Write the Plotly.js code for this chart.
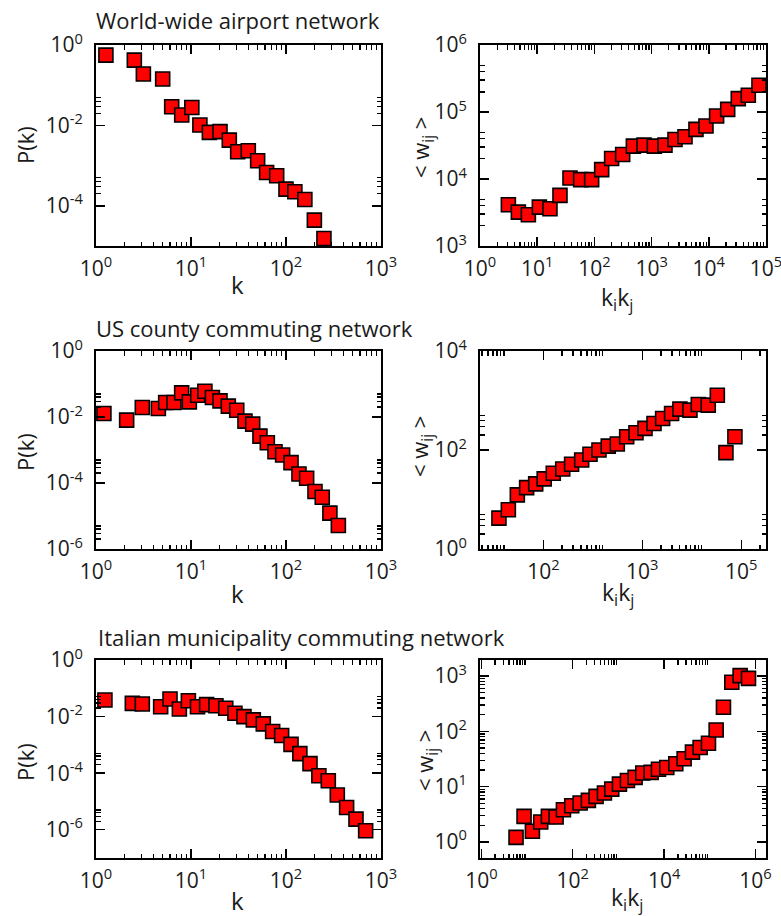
<!DOCTYPE html>
<html>
<head>
<meta charset="utf-8">
<script src="https://cdn.plot.ly/plotly-3.0.1.min.js"></script>
<style>html,body{margin:0;padding:0;background:#fff}</style>
</head>
<body>
<div id="chart" style="width:781px;height:916px"></div>
<script>
// ---- Data ----
const panelTitles = ["World-wide airport network", "US county commuting network", "Italian municipality commuting network"];

// World-wide airport network
const airportK = [1.27, 2.53, 3.15, 5.03, 6.26, 7.98, 10.2, 12.4, 15.6, 20.2, 25.3, 31.0, 40.1, 50.3, 62.5, 79.8, 100, 124, 158, 199, 251];
const airportPk = [0.56, 0.42, 0.19, 0.143, 0.0292, 0.0181, 0.028, 0.0102, 0.0067, 0.0070, 0.00431, 0.00221, 0.00234, 0.00132, 6.76e-4, 5.58e-4, 2.6e-4, 2.23e-4, 1.44e-4, 4.4e-5, 1.54e-5];
const airportKiKj = [3.13, 4.68, 7.0, 10.9, 16.7, 25.0, 37.4, 57.5, 89.5, 134, 200, 312, 480, 737, 1117, 1714, 2565, 3840, 5970, 8930, 13700, 21400, 32800, 49100, 75500];
const airportWij = [4120, 3200, 2920, 3800, 3590, 5690, 10350, 9770, 9770, 13800, 20200, 23200, 30900, 32000, 30900, 32000, 38900, 42700, 55000, 61700, 87100, 109600, 158500, 177800, 251200];

// US county commuting network
const usK = [1.21, 2.10, 3.07, 4.53, 5.41, 6.62, 7.97, 9.60, 11.75, 14.0, 16.8, 20.2, 24.7, 30.3, 37.0, 44.6, 53.2, 63.6, 76.6, 92.2, 113, 137, 165, 202, 241, 290, 356];
const usPk = [0.0128, 0.00804, 0.0194, 0.0181, 0.0275, 0.0275, 0.0538, 0.0288, 0.0458, 0.0604, 0.0389, 0.0308, 0.0213, 0.0161, 0.0075, 0.00608, 0.00264, 0.00166, 8.89e-4, 7.05e-4, 4.13e-4, 1.88e-4, 1.39e-4, 5.5e-5, 3.7e-5, 1.22e-5, 5.16e-6];
const usKiKj = [35.6, 44.3, 54.6, 67.8, 83.7, 102, 126, 157, 193, 244, 296, 365, 453, 559, 695, 863, 1065, 1313, 1605, 1977, 2400, 3030, 3680, 4640, 5730, 7000, 8630];
const usWij = [4.21, 6.19, 12.4, 17.4, 20.7, 26.1, 33.9, 41.4, 51.4, 62.9, 81.8, 100, 120, 132, 185, 223, 273, 344, 434, 547, 669, 638, 830, 805, 1280, 88.4, 185];

// Italian municipality commuting network
const itK = [1.24, 2.41, 3.07, 4.79, 6.01, 7.54, 9.38, 11.7, 14.6, 18.3, 23.2, 29.0, 36.1, 45.3, 57.7, 72.4, 90.0, 113, 140, 179, 222, 279, 347, 435, 546, 690];
const itPk = [0.0385, 0.0294, 0.0278, 0.0224, 0.0417, 0.0186, 0.0364, 0.0224, 0.0264, 0.0243, 0.0196, 0.0131, 0.0100, 0.00764, 0.00553, 0.00298, 0.00215, 0.00104, 4.9e-4, 2.18e-4, 8.06e-5, 5.38e-5, 1.69e-5, 6.08e-6, 2.37e-6, 9.23e-7];
const itKiKj = [5.74, 8.6, 13.1, 19.9, 29.3, 43.2, 62.5, 95.0, 145, 220, 324, 494, 714, 1052, 1574, 2317, 3412, 5190, 7520, 11430, 18000, 27400, 41700, 61400, 93500, 137700, 199000, 303000, 461000, 703000];
const itWij = [1.21, 2.90, 1.56, 2.30, 2.90, 2.83, 3.83, 4.52, 5.05, 5.65, 6.67, 7.66, 9.04, 11.1, 12.9, 14.7, 17.6, 18.1, 20.7, 22.2, 25.9, 31.9, 42.1, 51.0, 61.1, 106, 272, 770, 1016, 909];

// Tick values and labels
const kTickVals = [1, 10, 100, 1000];
const kTickText = ["10<sup>0</sup>", "10<sup>1</sup>", "10<sup>2</sup>", "10<sup>3</sup>"];
const pTickVals = [1, 1e-2, 1e-4, 1e-6];
const pTickText = ["10<sup>0</sup>", "10<sup>-2</sup>", "10<sup>-4</sup>", "10<sup>-6</sup>"];
const airKKTickVals = [1, 10, 100, 1000, 1e4, 1e5];
const airKKTickText = ["10<sup>0</sup>", "10<sup>1</sup>", "10<sup>2</sup>", "10<sup>3</sup>", "10<sup>4</sup>", "10<sup>5</sup>"];
const airWTickVals = [1e3, 1e4, 1e5, 1e6];
const airWTickText = ["10<sup>3</sup>", "10<sup>4</sup>", "10<sup>5</sup>", "10<sup>6</sup>"];
const usKKTickVals = [100, 1000, 1e4];
const usKKTickText = ["10<sup>2</sup>", "10<sup>3</sup>", "10<sup>5</sup>"];
const usWTickVals = [1, 100, 1e4];
const usWTickText = ["10<sup>0</sup>", "10<sup>2</sup>", "10<sup>4</sup>"];
const itKKTickVals = [1, 100, 1e4, 1e6];
const itKKTickText = ["10<sup>0</sup>", "10<sup>2</sup>", "10<sup>4</sup>", "10<sup>6</sup>"];
const itWTickVals = [1, 10, 100, 1000];
const itWTickText = ["10<sup>0</sup>", "10<sup>1</sup>", "10<sup>2</sup>", "10<sup>3</sup>"];

// ---- Helpers ----
const W = 781, H = 916;
const FONT = "Open Sans, Noto Sans, sans-serif";
function minors(decades, ns, scale) {
  const out = [];
  decades.forEach(d => ns.forEach(n => out.push(Math.pow(10, d + (scale || 1) * Math.log10(n)))));
  return out;
}
const N29 = [2,3,4,5,6,7,8,9];
const N25 = [2,3,4,5];
function xdom(a, b) { return [a / W, b / W]; }
function ydom(top, bottom) { return [1 - bottom / H, 1 - top / H]; }
function axis(dom, range, tv, tt, mv, isY) {
  return {
    type: 'log', domain: dom, range: range,
    showline: true, linecolor: '#000', linewidth: 2, mirror: 'ticks',
    ticks: 'inside', ticklen: 9, tickwidth: 1.5, tickcolor: '#000',
    tickmode: 'array', tickvals: tv, ticktext: tt,
    ticklabelstandoff: isY ? 7 : 3, ticklabeloverflow: 'allow',
    tickfont: {family: FONT, size: 21, color: '#1a1a1a'},
    minor: {tickmode: 'array', tickvals: mv, ticks: 'inside', ticklen: 4.5, tickwidth: 1.3, tickcolor: '#000', showgrid: false},
    showgrid: false, zeroline: false, fixedrange: true
  };
}
function trace(x, y, n) {
  return {
    x: x, y: y, xaxis: 'x' + (n === 1 ? '' : n), yaxis: 'y' + (n === 1 ? '' : n),
    type: 'scatter', mode: 'markers', cliponaxis: false, showlegend: false,
    marker: {symbol: 'square', size: 14, color: '#ff0000', line: {color: '#000', width: 1.6}}
  };
}

const LX = xdom(96, 381), RX = xdom(480, 766);
const R1 = ydom(45, 246), R2 = ydom(351, 549), R3 = ydom(660, 858);

const data = [
  trace(airportK, airportPk, 1),
  trace(airportKiKj, airportWij, 2),
  trace(usK, usPk, 3),
  trace(usKiKj, usWij, 4),
  trace(itK, itPk, 5),
  trace(itKiKj, itWij, 6)
];

const layout = {
  width: W, height: H, margin: {l: 0, r: 0, t: 0, b: 0},
  paper_bgcolor: '#fff', plot_bgcolor: '#fff', showlegend: false,
  font: {family: FONT, color: '#1a1a1a'},
  xaxis:  Object.assign(axis(LX, [-0.0005, 3.0005], kTickVals, kTickText, minors([0,1,2], N29)), {anchor: 'y'}),
  yaxis:  Object.assign(axis(R1, [-5, 0.0005], pTickVals, pTickText, minors([-2,-4], N25), true), {anchor: 'x'}),
  xaxis2: Object.assign(axis(RX, [-0.0005, 5.0005], airKKTickVals, airKKTickText, minors([0,1,2,3,4], N29)), {anchor: 'y2'}),
  yaxis2: Object.assign(axis(R1, [2.9995, 6.0005], airWTickVals, airWTickText, minors([3,4,5], N25), true), {anchor: 'x2'}),
  xaxis3: Object.assign(axis(LX, [-0.0005, 3.0005], kTickVals, kTickText, minors([0,1,2], N29)), {anchor: 'y3'}),
  yaxis3: Object.assign(axis(R2, [-6.0005, 0.0005], pTickVals, pTickText, minors([-2,-4,-6], N25), true), {anchor: 'x3'}),
  xaxis4: Object.assign(axis(RX, [1.36, 4.25], usKKTickVals, usKKTickText, minors([1,2,3,4], N29, 0.63)), {anchor: 'y4'}),
  yaxis4: Object.assign(axis(R2, [-0.0005, 4.0005], usWTickVals, usWTickText, minors([0,2], N25), true), {anchor: 'x4'}),
  xaxis5: Object.assign(axis(LX, [-0.0005, 3.0005], kTickVals, kTickText, minors([0,1,2], N29)), {anchor: 'y5'}),
  yaxis5: Object.assign(axis(R3, [-7, 0.0005], pTickVals, pTickText, minors([-2,-4,-6], N25), true), {anchor: 'x5'}),
  xaxis6: Object.assign(axis(RX, [-0.03, 6.23], itKKTickVals, itKKTickText, minors([0,2,4], N29)), {anchor: 'y6'}),
  yaxis6: Object.assign(axis(R3, [-0.29, 3.29], itWTickVals, itWTickText, minors([0,1,2], N29), true), {anchor: 'x6'}),
  annotations: []
};

function ann(text, xpx, ypx, opts) {
  return Object.assign({
    text: text, xref: 'paper', yref: 'paper', x: xpx / W, y: 1 - ypx / H,
    xanchor: 'center', yanchor: 'middle', showarrow: false,
    font: {family: FONT, size: 22, color: '#1a1a1a'}
  }, opts || {});
}
const A = layout.annotations;
A.push(ann(panelTitles[0], 94, 20, {xanchor: 'left'}));
A.push(ann(panelTitles[1], 94, 328, {xanchor: 'left'}));
A.push(ann(panelTitles[2], 96, 637, {xanchor: 'left'}));
[145, 452, 762].forEach(y => A.push(ann("P(k)", 25, y, {textangle: -90})));
[285, 593, 900].forEach(y => A.push(ann("k", 238, y, {font: {family: FONT, size: 24, color: '#1a1a1a'}})));
[[422, 147], [421, 447], [426, 760]].forEach(p => A.push(ann("&lt; w<sub>ij</sub> &gt;", p[0], p[1], {textangle: -90})));
[[617, 298], [618, 593], [627, 898]].forEach(p => A.push(ann("k<sub>i</sub>k<sub>j</sub>", p[0], p[1], {font: {family: FONT, size: 23, color: '#1a1a1a'}})));

Plotly.newPlot('chart', data, layout, {staticPlot: true, displayModeBar: false});
</script>
</body>
</html>
